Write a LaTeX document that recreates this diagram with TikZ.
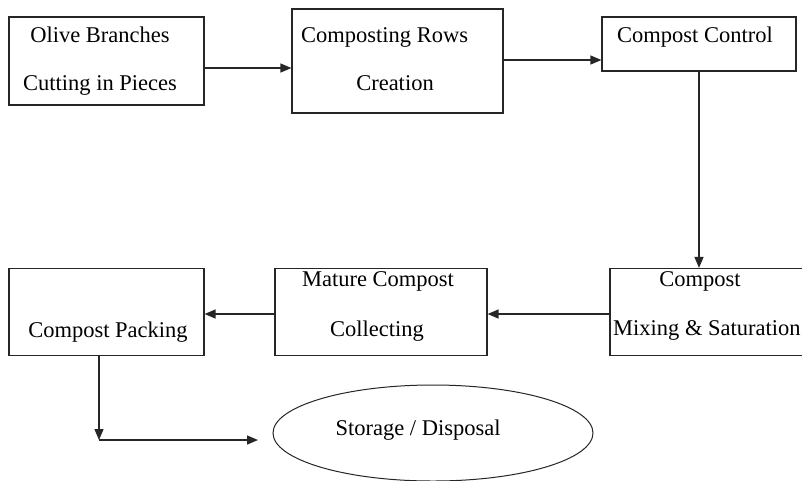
\documentclass[tikz,border=0pt]{standalone}
\usepackage{fontspec}
\setmainfont{Liberation Serif}
\usetikzlibrary{arrows.meta,shapes.geometric}
\begin{document}
\begin{tikzpicture}[x=1pt,y=-1pt,
  box/.style={draw=black!85,line width=1.2pt,rectangle,inner sep=0pt},
  txt/.style={anchor=base,inner sep=0pt,font=\fontsize{22.5}{27}\selectfont},
  arr/.style={draw=black!85,line width=1.3pt,-{Triangle[length=11pt,width=9pt]}},
  ln/.style={draw=black!85,line width=1.3pt}]
\clip (0,0) rectangle (802,480);
\fill[white] (0,0) rectangle (802,480);
% boxes
\node[box,minimum width=195pt,minimum height=88pt] (b1) at (106.5,61) {};
\node[box,minimum width=211pt,minimum height=104pt] (b2) at (397.5,61) {};
\node[box,minimum width=194pt,minimum height=54pt] (b3) at (699,44) {};
\node[box,minimum width=200pt,minimum height=87pt] (b4) at (710,312) {};
\node[box,minimum width=212pt,minimum height=87pt] (b5) at (381,312) {};
\node[box,minimum width=195pt,minimum height=87pt] (b6) at (106.5,312) {};
\node[draw=black!85,line width=1pt,ellipse,minimum width=320pt,minimum height=96pt,inner sep=0pt] (e) at (433,433) {};
% texts
\node[txt] (t1a) at (100,42) {Olive Branches};
\node[txt] (t1b) at (100,90) {Cutting in Pieces};
\node[txt,anchor=base west] (t2a) at (301,42) {Composting Rows};
\node[txt] (t2b) at (395,90) {Creation};
\node[txt] (t3) at (695,42) {Compost Control};
\node[txt] (t4a) at (700,286) {Compost};
\node[txt,anchor=base west] (t4b) at (613,335) {Mixing \& Saturation};
\node[txt] (t5a) at (378,286) {Mature Compost};
\node[txt] (t5b) at (377,336) {Collecting};
\node[txt] (t6) at (108,337) {Compost Packing};
\node[txt] (te) at (418,435) {Storage / Disposal};
% connectors
\draw[arr] (b1.east |- 0,68) -- (b2.west |- 0,68);
\draw[arr] (b2.east |- 0,60) -- (b3.west |- 0,60);
\draw[arr] (b3.south -| 699,0) -- (b4.north -| 699,0);
\draw[arr] (b4.west |- 0,314) -- (b5.east |- 0,314);
\draw[arr] (b5.west |- 0,314) -- (b6.east |- 0,314);
\coordinate (c1) at (99,440);
\coordinate (c2) at (258,440);
\draw[arr] (b6.south -| c1) -- (c1);
\draw[arr] (c1) -- (c2);
\end{tikzpicture}
\end{document}
